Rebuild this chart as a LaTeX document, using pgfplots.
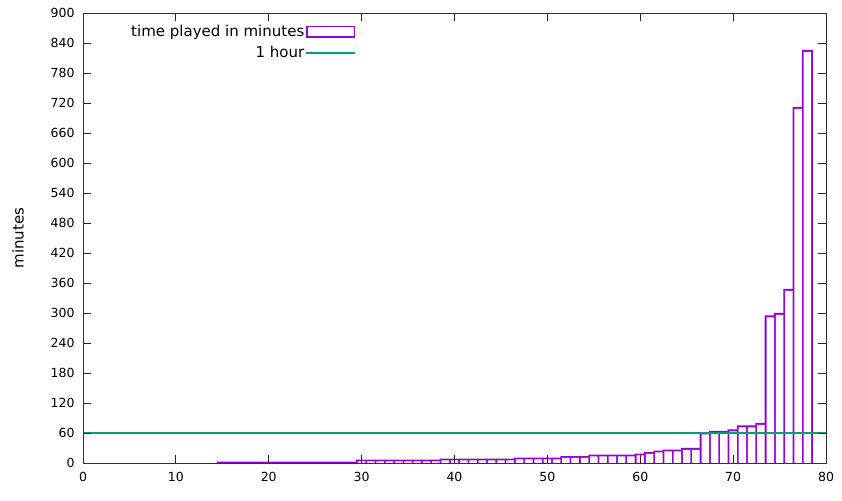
\documentclass[border=0pt]{standalone}
\usepackage{fontspec}
\setmainfont{DejaVu Sans}
\usepackage{pgfplots}
\pgfplotsset{compat=1.18}
\usepackage{pgfplotstable}

\definecolor{gpviolet}{HTML}{9400D3}
\definecolor{gpgreen}{HTML}{009E73}

% minutes played per title, sorted ascending
\pgfplotstableread{
x  minutes
15 3
16 3
17 3
18 3
19 3
20 3
21 3
22 3
23 3
24 3
25 3
26 3
27 3
28 3
29 3
30 7
31 7
32 7
33 7
34 7
35 7
36 7
37 7
38 7
39 9
40 9
41 9
42 9
43 9
44 9
45 9
46 9
47 11
48 11
49 11
50 11
51 11
52 14
53 14
54 14
55 17
56 17
57 17
58 17
59 17
60 19
61 22
62 25
63 27
64 27
65 30
66 30
67 61
68 64
69 64
70 67
71 75
72 75
73 80
74 295
75 300
76 348
77 712
78 826
}\playtime

\newcommand{\tickfont}{\fontsize{12.5}{15}\selectfont}
\newcommand{\lblfont}{\fontsize{15}{17}\selectfont}

\begin{document}
\begin{tikzpicture}
\useasboundingbox (-83pt,-37pt) rectangle (759pt,463pt);
\begin{axis}[
  at={(0,0)}, anchor=south west,
  scale only axis,
  width=743pt, height=450pt,
  xmin=0, xmax=80, ymin=0, ymax=900,
  xtick={0,10,...,80},
  ytick={0,60,...,900},
  tick align=inside,
  major tick length=8pt,
  tick style={black!85, line width=0.8pt},
  axis line style={black!80, line width=0.8pt},
  axis on top,
  /pgf/number format/assume math mode=true,
  /pgf/number format/1000 sep={},
  tick label style={font=\tickfont, black},
  yticklabel style={xshift=-5pt},
  xticklabel style={yshift=-6pt},
  ylabel={minutes},
  ylabel style={font=\lblfont, at={(axis description cs:-0.0875,0.5)}, anchor=center},
  legend style={draw=none, fill=none, font=\lblfont,
    at={(axis description cs:0.366,0.978)}, anchor=north east,
    inner sep=0pt, row sep=4.5pt},
  legend cell align=right,
  legend plot pos=right,
]
% legend samples: outlined box for the bars, flat band for the 1 hour level
\addlegendimage{legend image code/.code={%
  \fill[gpviolet] (0pt,-5.5pt) rectangle (48pt,5.5pt);
  \fill[white] (1.6pt,-3.9pt) rectangle (46.4pt,3.9pt);}}
\addlegendentry{time played in minutes}
\addlegendimage{legend image code/.code={\fill[gpgreen] (0pt,-0.7pt) rectangle (48pt,0.7pt);}}
\addlegendentry{1 hour}

% outlined unit-wide boxes: a violet box per title, hollowed out by a white one
% inset by the outline width (1.8pt, i.e. 3.6 minutes at this scale)
\addplot[ybar, bar width=11.09pt, bar shift=0pt, fill=gpviolet, draw=none, forget plot]
  table[x=x, y=minutes] {\playtime};
\addplot[ybar, bar width=7.49pt, bar shift=0pt, fill=white, draw=none, forget plot]
  table[x=x, y expr=\thisrow{minutes}-3.6] {\playtime};

% one hour reference
\addplot[draw=gpgreen, line width=1.4pt, mark=none, forget plot]
  coordinates {(0,60) (80,60)};
\end{axis}
\end{tikzpicture}
\end{document}
